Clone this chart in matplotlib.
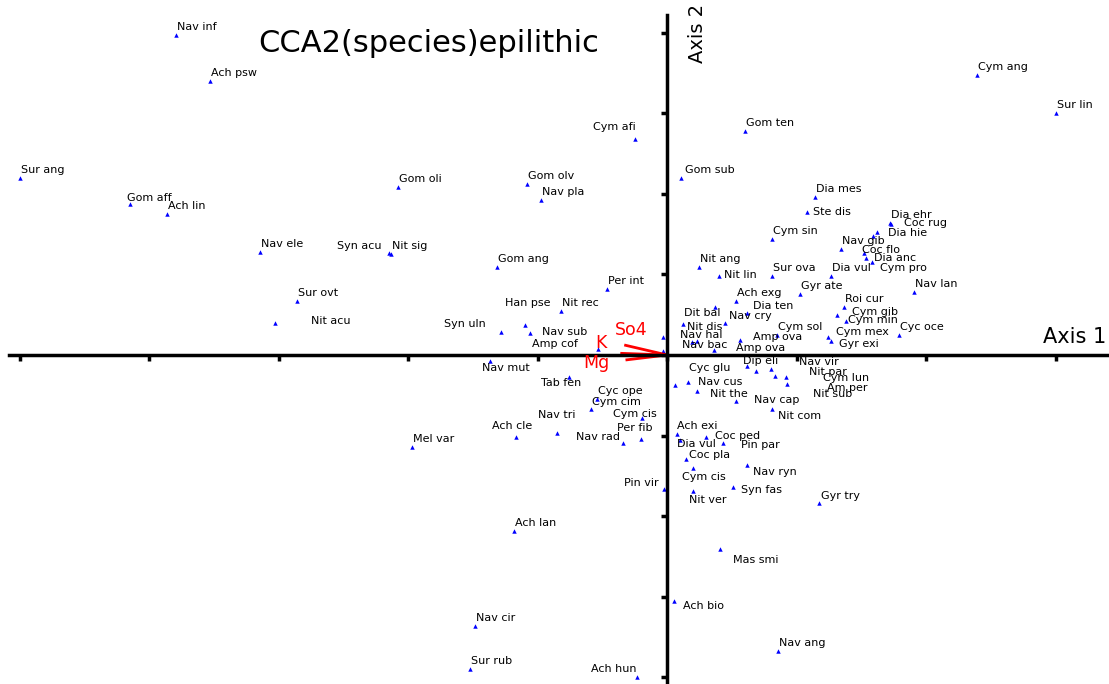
#!/usr/bin/env python3
# CCA biplot of epilithic diatom species, axes 1 and 2
import numpy as np
import matplotlib
matplotlib.use('Agg')
import matplotlib.pyplot as plt

# species scores (axis 1, axis 2)
species = ['Nav inf', 'Ach psw', 'Sur ang', 'Gom aff', 'Ach lin', 'Cym afi', 'Gom sub',
           'Gom oli', 'Gom olv', 'Nav pla', 'Cym ang', 'Sur lin', 'Gom ten', 'Dia mes',
           'Ste dis', 'Dia ehr', 'Coc rug', 'Dia hie', '', 'Nav gib', 'Coc flo', 'Dia anc',
           'Cym pro', 'Dia vul', 'Cym sin', 'Nit ang', 'Nit lin', 'Sur ova', 'Gyr ate',
           'Roi cur', 'Ach exg', 'Dia ten', 'Dit bal', 'Nav cry', 'Cym gib', 'Cym min',
           'Cym sol', 'Cym mex', 'Gyr exi', 'Amp ova', 'Amp ova', 'Nit dis', 'Nav hal',
           'Nav bac', 'Cyc oce', 'Nav lan', '', '', 'Amp cof', 'Nav sub', 'Han pse',
           'Syn uln', 'Nit rec', 'Per int', 'Gom ang', 'Nit sig', 'Syn acu', 'Nav mut',
           'Tab fen', 'Cyc ope', 'Cym cim', 'Nav tri', 'Cym cis', 'Per fib', 'Nav rad',
           'Ach cle', 'Mel var', 'Nav ele', 'Sur ovt', 'Nit acu', 'Dip eli', 'Nav vir',
           'Nit par', 'Cym lun', 'Am per', 'Nit sub', 'Cyc glu', 'Nav cus', 'Nit the',
           'Nav cap', 'Nit com', 'Ach exi', 'Coc ped', 'Dia vul', 'Pin par', 'Coc pla',
           'Nav ryn', 'Cym cis', 'Syn fas', 'Nit ver', 'Gyr try', 'Pin vir', 'Ach lan',
           'Mas smi', 'Ach bio', 'Nav cir', 'Sur rub', 'Ach hun', 'Nav ang']
axis1 = [-3.79, -3.53, -5.00, -4.15, -3.86, -0.25, 0.11,
         -2.08, -1.08, -0.97, 2.39, 3.00, 0.60, 1.14,
         1.08, 1.72, 1.73, 1.62, 1.59, 1.34, 1.52, 1.54,
         1.58, 1.27, 0.81, 0.25, 0.40, 0.81, 1.03,
         1.37, 0.53, 0.62, 0.37, 0.45, 1.31, 1.38,
         0.85, 1.24, 1.27, 0.56, 0.36, 0.12, 0.19,
         0.23, 1.79, 1.91, -0.03, -0.03, -0.53, -1.06, -1.10,
         -1.28, -0.82, -0.46, -1.31, -2.13, -2.15, -1.37,
         -0.76, -0.54, -0.59, -0.85, -0.19, -0.20, -0.34,
         -1.17, -1.97, -3.14, -2.86, -3.03, 0.62, 0.69,
         0.80, 0.83, 0.92, 0.93, 0.06, 0.16, 0.23,
         0.53, 0.81, 0.08, 0.30, 0.10, 0.43, 0.15,
         0.62, 0.20, 0.51, 0.20, 1.17, -0.02, -1.18,
         0.41, 0.05, -1.48, -1.52, -0.23, 0.86]
axis2 = [3.97, 3.40, 2.20, 1.87, 1.75, 2.68, 2.20,
         2.08, 2.12, 1.92, 3.47, 3.00, 2.78, 1.96,
         1.77, 1.64, 1.63, 1.53, 1.48, 1.32, 1.27, 1.20,
         1.15, 0.98, 1.44, 1.09, 0.98, 0.98, 0.76,
         0.60, 0.67, 0.52, 0.60, 0.40, 0.50, 0.42,
         0.25, 0.22, 0.17, 0.19, 0.06, 0.38, 0.16,
         0.17, 0.25, 0.78, 0.22, 0.05, 0.07, 0.27, 0.37,
         0.29, 0.55, 0.82, 1.09, 1.25, 1.27, -0.07,
         -0.27, -0.55, -0.67, -0.97, -0.78, -1.04, -1.09,
         -1.02, -1.14, 1.28, 0.67, 0.40, -0.14, -0.20,
         -0.17, -0.26, -0.27, -0.36, -0.37, -0.33, -0.45,
         -0.57, -0.67, -0.98, -1.02, -1.05, -1.09, -1.29,
         -1.36, -1.40, -1.64, -1.69, -1.84, -1.66, -2.18,
         -2.41, -3.05, -3.36, -3.90, -4.00, -3.67]

# environmental variables (arrow tips)
env_names = ['So4', 'K', 'Mg']
env_axis1 = [-0.32, -0.35, -0.31]
env_axis2 = [0.12, 0.02, -0.06]

# label placement, pixels from the marker (right, up); default is just above it.
# names that occur twice get one entry per occurrence
label_offset = {
    'Gom aff': [(-3, 6)], 'Cym afi': [(-42, 12)], 'Gom sub': [(4, 8)], 'Ste dis': [(6, 0)],
    'Coc rug': [(13, 1)], 'Dia hie': [(11, -1)], 'Coc flo': [(-2, 3)], 'Dia anc': [(8, 0)],
    'Cym pro': [(8, -6)], 'Nit lin': [(5, 1)], 'Dia ten': [(6, 7)], 'Dit bal': [(-31, -6)],
    'Nav cry': [(4, 7)], 'Cym gib': [(15, 3)], 'Cym min': [(2, 1)], 'Cym mex': [(8, 5)],
    'Gyr exi': [(8, -3)], 'Amp ova': [(13, 3), (22, 2)], 'Nit dis': [(4, -3)],
    'Nav hal': [(-12, 7)], 'Nav bac': [(-15, -4)], 'Amp cof': [(-66, 5)],
    'Nav sub': [(12, 1)], 'Han pse': [(-20, 22)], 'Syn uln': [(-57, 8)],
    'Syn acu': [(-52, 7)], 'Nav mut': [(-8, -7)], 'Tab fen': [(-28, -6)],
    'Cym cim': [(1, 7)], 'Nav tri': [(-19, 18)], 'Cym cis': [(-29, 4), (-11, -9)],
    'Per fib': [(-24, 11)], 'Nav rad': [(-47, 6)], 'Ach cle': [(-24, 11)],
    'Nit acu': [(36, 2)], 'Dip eli': [(-4, 5)], 'Nav vir': [(43, 9)],
    'Nit par': [(38, -3)], 'Cym lun': [(48, -2)], 'Am per': [(41, -11)],
    'Nit sub': [(26, -10)], 'Cyc glu': [(14, 17)], 'Nav cus': [(10, 0)],
    'Nit the': [(13, -3)], 'Nav cap': [(18, 1)], 'Nit com': [(6, -7)],
    'Ach exi': [(0, 8)], 'Coc ped': [(9, 1)], 'Dia vul': [(1, 8), (-3, -4)],
    'Pin par': [(18, -2)], 'Coc pla': [(3, 4)], 'Nav ryn': [(6, -7)],
    'Syn fas': [(8, -3)], 'Nit ver': [(-4, -9)], 'Gyr try': [(2, 7)],
    'Pin vir': [(-40, 6)], 'Mas smi': [(13, -11)], 'Ach bio': [(9, -5)],
    'Ach hun': [(-46, 8)],
}
env_offset = {'So4': (-11, 15), 'K': (-26, 10), 'Mg': (-44, -3)}

plt.rcParams['font.family'] = 'DejaVu Sans'

fig = plt.figure(figsize=(11.09, 6.84), dpi=100)
ax = fig.add_axes([0, 0, 1, 1])
ax.set_xlim(-5.151, 3.413)
ax.set_ylim(-4.082, 4.404)

# axes through the origin
for side in ['top', 'right']:
    ax.spines[side].set_visible(False)
ax.spines['left'].set_position(('data', 0))
ax.spines['bottom'].set_position(('data', 0))
ax.spines['left'].set_bounds(-4.082, 4.22)
ax.spines['bottom'].set_bounds(-5.08, 3.413)
for side in ['left', 'bottom']:
    ax.spines[side].set_linewidth(2.5)
ax.set_xticks(np.arange(-5, 4))
ax.set_yticks(np.arange(-4, 5))
ax.set_xticklabels([])
ax.set_yticklabels([])
ax.tick_params(direction='out', length=4, width=2.5, color='black')

ax.plot(axis1, axis2, linestyle='none', marker='^', markersize=3.2,
        color='#0000ff', markeredgewidth=0)

count = {}
for name, x, y in zip(species, axis1, axis2):
    if not name:
        continue
    k = count.get(name, 0)
    count[name] = k + 1
    offs = label_offset.get(name, [(1, 8)])
    dx, dy = offs[min(k, len(offs) - 1)]
    ax.annotate(name, (x, y), xytext=(dx, dy), textcoords='offset pixels',
                ha='left', va='center', fontsize=8, color='black')

# environmental arrows
for name, x, y in zip(env_names, env_axis1, env_axis2):
    ax.plot([0, x], [0, y], color='#ff0000', linewidth=2)
    dx, dy = env_offset[name]
    ax.annotate(name, (x, y), xytext=(dx, dy), textcoords='offset pixels',
                ha='left', va='center', fontsize=12.5, color='#ff0000')

fig.text(258 / 1109, 1 - 44 / 684, 'CCA2(species)epilithic', fontsize=22,
         ha='left', va='center')
ax.annotate('Axis 1', (3.413, 0), xytext=(-3, 18), textcoords='offset pixels',
            ha='right', va='center', fontsize=15)
ax.annotate('Axis 2', (0, 4.404), xytext=(30, -4), textcoords='offset pixels',
            rotation=90, ha='center', va='top', fontsize=14)

plt.savefig('out.png', dpi=100)
